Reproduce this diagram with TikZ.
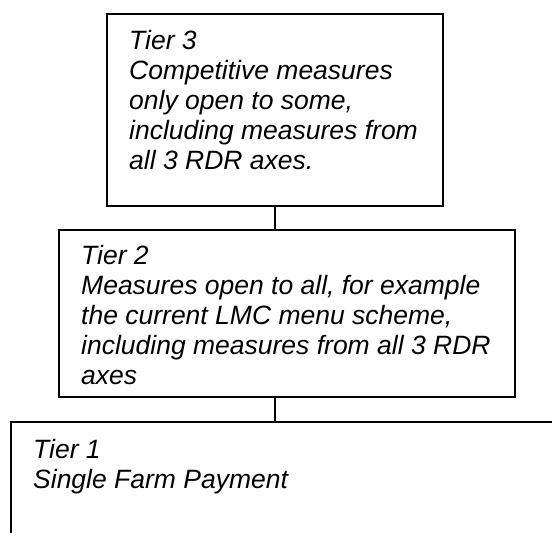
\documentclass[tikz,border=0pt]{standalone}
\usepackage{fontspec}
\setmainfont{Liberation Sans}
\begin{document}
\begin{tikzpicture}[x=1pt,y=-1pt,
  tierbox/.style={draw=black,line width=1.6pt,rectangle,inner sep=0pt},
  tiertext/.style={anchor=north west,inner sep=0pt,align=left,
    font={\fontsize{26.5}{30}\selectfont\itshape}},
  link/.style={draw=black,line width=1.6pt}]
\useasboundingbox (0,0) rectangle (552,533);
\clip (0,0) rectangle (552,533);
\node[tierbox,minimum width=336pt,minimum height=192pt] (t3) at (275,110) {};
\node[tierbox,minimum width=456pt,minimum height=167pt] (t2) at (287,313.5) {};
\node[tierbox,minimum width=589pt,minimum height=178pt] (t1) at (305.5,511) {};
\node[tiertext] (t3txt) at (129,30) {Tier 3\\Competitive measures\\only open to some,\\including measures from\\all 3 RDR axes.};
\node[tiertext] (t2txt) at (81,245) {Tier 2\\Measures open to all, for example\\the current LMC menu scheme,\\including measures from all 3 RDR\\axes};
\node[tiertext] (t1txt) at (33,439) {Tier 1\\Single Farm Payment};
\draw[link] (t3.south) -- (t3.south |- t2.north);
\draw[link] (t3.south |- t2.south) -- (t3.south |- t1.north);
\end{tikzpicture}
\end{document}
